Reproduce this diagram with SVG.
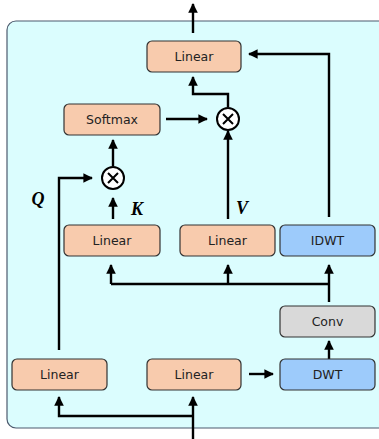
<svg xmlns="http://www.w3.org/2000/svg" width="379" height="439" viewBox="0 0 379 439">
<defs>
<style>
.box{stroke:#333;stroke-width:1.2}
.lin{fill:#f8cbad}
.blue{fill:#9dcbfb}
.gray{fill:#d9d9d9}
.lbl{font-family:Verdana,"DejaVu Sans",sans-serif;font-size:12.5px;fill:#222;text-anchor:middle;dominant-baseline:central}
.var{font-family:"Liberation Serif","DejaVu Serif",serif;font-size:18px;font-weight:bold;font-style:italic;fill:#000;text-anchor:middle;dominant-baseline:central}
.c{fill:none;stroke:#000;stroke-width:2.4}
</style>
<marker id="ah" viewBox="0 0 10 10" refX="9" refY="5" markerWidth="4" markerHeight="4" markerUnits="strokeWidth" orient="auto">
<path d="M0,0 L10,5 L0,10 z" fill="#000"/>
</marker>
</defs>
<rect x="7" y="21" width="385" height="407" rx="9" fill="#dbfdfe" stroke="#4c5a6e" stroke-width="1.2"/>
<g id="connectors">
<path class="c" d="M193,33 V4" marker-end="url(#ah)"/>
<path class="c" d="M228,107 V94 H193 V77" marker-end="url(#ah)"/>
<path class="c" d="M329,217 V54 H249" marker-end="url(#ah)"/>
<path class="c" d="M166,119 H207" marker-end="url(#ah)"/>
<path class="c" d="M113,166 V140" marker-end="url(#ah)"/>
<path class="c" d="M59,350 V178 H92" marker-end="url(#ah)"/>
<path class="c" d="M113,219 V198" marker-end="url(#ah)"/>
<path class="c" d="M228,219 V131" marker-end="url(#ah)"/>
<path class="c" d="M111,284 H329" />
<path class="c" d="M111,284 V265" marker-end="url(#ah)"/>
<path class="c" d="M228,284 V265" marker-end="url(#ah)"/>
<path class="c" d="M329,302 V265" marker-end="url(#ah)"/>
<path class="c" d="M329,359 V341" marker-end="url(#ah)"/>
<path class="c" d="M249,374 H273" marker-end="url(#ah)"/>
<path class="c" d="M193,439 V397" marker-end="url(#ah)"/>
<path class="c" d="M193,416 H59 V397" marker-end="url(#ah)"/>
</g>
<g id="linear-out"><rect class="box lin" x="147" y="41" width="94" height="31" rx="5"/><text class="lbl" x="194" y="56.5">Linear</text></g>
<g id="softmax"><rect class="box lin" x="64" y="104" width="96" height="31" rx="5"/><text class="lbl" x="112" y="119.5">Softmax</text></g>
<g id="mul-top"><circle cx="228" cy="119" r="11" fill="#fff" stroke="#000" stroke-width="2"/><path d="M223,114 L233,124 M233,114 L223,124" stroke="#000" stroke-width="2"/></g>
<g id="mul-qk"><circle cx="113" cy="178" r="11" fill="#fff" stroke="#000" stroke-width="2"/><path d="M108,173 L118,183 M118,173 L108,183" stroke="#000" stroke-width="2"/></g>
<g id="label-q"><text class="var" x="38" y="199">Q</text></g>
<g id="label-k"><text class="var" x="137" y="209">K</text></g>
<g id="label-v"><text class="var" x="242" y="208">V</text></g>
<g id="linear-k"><rect class="box lin" x="64" y="225" width="96" height="31" rx="5"/><text class="lbl" x="112" y="240.5">Linear</text></g>
<g id="linear-v"><rect class="box lin" x="180" y="225" width="95" height="31" rx="5"/><text class="lbl" x="227.5" y="240.5">Linear</text></g>
<g id="idwt"><rect class="box blue" x="280" y="225" width="95" height="31" rx="5"/><text class="lbl" x="327.5" y="240.5">IDWT</text></g>
<g id="conv"><rect class="box gray" x="280" y="306" width="95" height="31" rx="5"/><text class="lbl" x="327.5" y="321.5">Conv</text></g>
<g id="linear-q"><rect class="box lin" x="12" y="359" width="95" height="31" rx="5"/><text class="lbl" x="59.5" y="374.5">Linear</text></g>
<g id="linear-kv"><rect class="box lin" x="147" y="359" width="94" height="31" rx="5"/><text class="lbl" x="194" y="374.5">Linear</text></g>
<g id="dwt"><rect class="box blue" x="280" y="359" width="95" height="31" rx="5"/><text class="lbl" x="327.5" y="374.5">DWT</text></g>
</svg>
